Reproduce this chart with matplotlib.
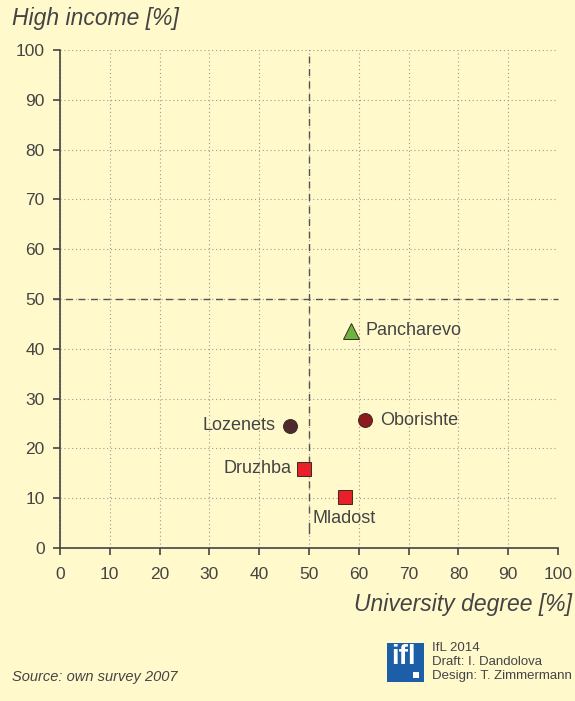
import matplotlib.pyplot as plt
from matplotlib.patches import Rectangle

# data
districts = ['Pancharevo', 'Oborishte', 'Lozenets', 'Druzhba', 'Mladost']
university = [58.5, 61.2, 46.2, 49.0, 57.2]
high_income = [43.6, 25.7, 24.5, 15.9, 10.2]
markers = ['^', 'o', 'o', 's', 's']
colors = ['#6cb33f', '#8c1b1e', '#4e2a2e', '#e8202a', '#e8202a']
ticks = list(range(0, 101, 10))

bg = '#fff9cc'
txt = '#444444'
plt.rcParams['font.family'] = ['Liberation Sans', 'DejaVu Sans']

fig = plt.figure(figsize=(5.75, 7.01), dpi=100, facecolor=bg)
ax = fig.add_axes([60 / 575, 1 - 548 / 701, 498 / 575, 498 / 701])
ax.set_facecolor(bg)

ax.set_xlim(0, 100)
ax.set_ylim(0, 100)
ax.set_xticks(ticks)
ax.set_yticks(ticks)
ax.tick_params(colors=txt, labelsize=12.5, length=5, width=1.2)
ax.tick_params(axis='x', pad=9)
ax.tick_params(axis='y', pad=6)
for s in ['top', 'right']:
    ax.spines[s].set_visible(False)
for s in ['left', 'bottom']:
    ax.spines[s].set_color('#444444')
    ax.spines[s].set_linewidth(1.2)

ax.grid(True, linestyle=(0, (1, 2.5)), color='#9a9a90', linewidth=0.8)
ax.set_axisbelow(True)
ax.axhline(50, xmin=-0.015, xmax=1.0, color='#555555', linestyle=(0, (5, 4)),
           linewidth=1, clip_on=False)
ax.axvline(50, ymin=0.07, ymax=1.0, color='#555555', linestyle=(0, (5, 4)), linewidth=1)
ax.plot([50, 50], [3, 5], color='#555555', linewidth=1)

for name, x, y, m, c in zip(districts, university, high_income, markers, colors):
    size = 11 if m == '^' else 10
    if m == 's':
        size = 9.5
    ax.plot(x, y, marker=m, color=c, markersize=size, markeredgecolor='#3a2a20',
            markeredgewidth=0.7, linestyle='none', zorder=5)

label_pos = {
    'Pancharevo': (2.8, 0, 'left', 'center'),
    'Oborishte': (3.0, 0, 'left', 'center'),
    'Lozenets': (-3.0, 0, 'right', 'center'),
    'Druzhba': (-2.6, 0, 'right', 'center'),
    'Mladost': (-0.2, -4.2, 'center', 'center'),
}
for name, x, y in zip(districts, university, high_income):
    dx, dy, ha, va = label_pos[name]
    ax.text(x + dx, y + dy, name, ha=ha, va=va, fontsize=13, color=txt, zorder=6)

fig.text(12 / 575, 1 - 18 / 701, 'High income [%]', fontsize=16.5, style='italic',
         color=txt, ha='left', va='center')
fig.text(572 / 575, 1 - 605 / 701, 'University degree [%]', fontsize=16.5, style='italic',
         color=txt, ha='right', va='center')
fig.text(12 / 575, 1 - 677 / 701, 'Source: own survey 2007', fontsize=10.5,
         style='italic', color=txt, ha='left', va='center')

# ifl logo
fig.patches.append(Rectangle((387 / 575, 1 - 682 / 701), 37 / 575, 39 / 701,
                             transform=fig.transFigure, facecolor='#1c5fa8',
                             edgecolor='none'))
fig.text(403 / 575, 1 - 657 / 701, 'ifl', fontsize=20, fontweight='bold',
         color='white', ha='center', va='center')
fig.patches.append(Rectangle((413 / 575, 1 - 678 / 701), 6 / 575, 6 / 701,
                             transform=fig.transFigure, facecolor='white',
                             edgecolor='none'))
for i, line in enumerate(['IfL 2014', 'Draft: I. Dandolova', 'Design: T. Zimmermann']):
    fig.text(432 / 575, 1 - (648 + 14 * i) / 701, line, fontsize=9.5, color=txt,
             ha='left', va='center')

fig.savefig('out.png', dpi=100, facecolor=bg)
